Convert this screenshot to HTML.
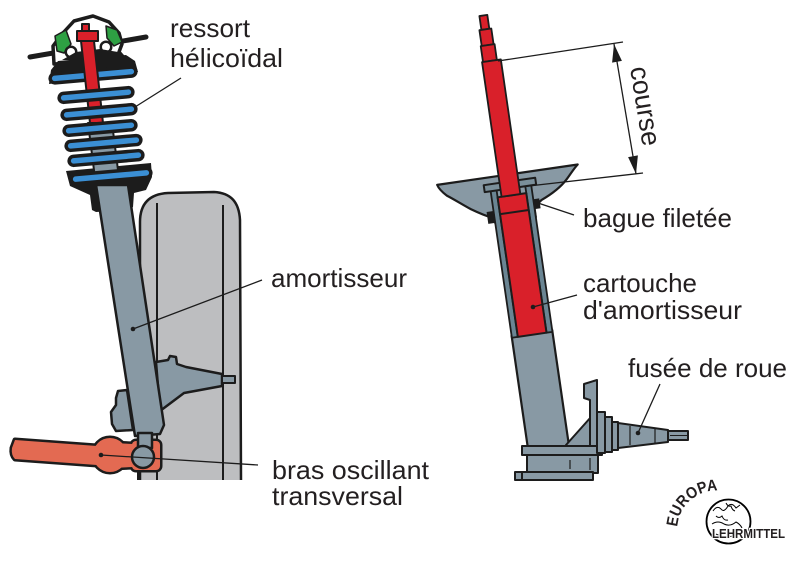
<!DOCTYPE html>
<html><head><meta charset="utf-8">
<style>
html,body{margin:0;padding:0;background:#fff;}
svg{display:block;}
text{font-family:"Liberation Sans Narrow","Liberation Sans",sans-serif;fill:#231f20;}
</style></head><body>
<svg width="798" height="564" viewBox="0 0 798 564" xmlns="http://www.w3.org/2000/svg">
<rect width="798" height="564" fill="#fff"/>

<!-- ============ LEFT FIGURE ============ -->
<g stroke="#1c1c1c" stroke-linejoin="round">
  <!-- wheel -->
  <path d="M140,480 L140,222 C140,203 150,194 168,193 L214,192 C231,193 239,202 240,220 L241,480 Z" fill="#bdbec0" stroke="none"/>
  <path d="M140,480 L140,222 C140,203 150,194 168,193 L214,192 C231,193 239,202 240,220 L241,480" fill="none" stroke-width="2.5"/>
  <line x1="157" y1="203" x2="157" y2="480" stroke-width="2"/>
  <line x1="223" y1="205" x2="223" y2="480" stroke-width="2"/>

  <!-- knuckle / stub -->
  <polygon points="156,362 168,360 170,356 176,357 177,364 186,367 222,374 222,386 184,393 168,405 160,411" fill="#8899a4" stroke-width="2.5"/>
  <rect x="222" y="376" width="13" height="7" fill="#8899a4" stroke-width="2"/>
  <!-- left bracket -->
  <polygon points="118,391 127,390 133,430 116,431 112,424 111,412 116,405 116,398" fill="#8899a4" stroke-width="2.5"/>

  <!-- lower spring seat (black cup) -->
  <polygon points="66,171 151,163 152,177 146,190 134,193 133,207 129,210 96,212 92,210 90,195 70,186" fill="#1c1c1c" stroke="none"/>
  <!-- damper body -->
  <polygon points="96,185 128,185 164,425 160,434 135,436" fill="#8899a4" stroke-width="2.5"/>

  <!-- top mount bar -->
  <line x1="30" y1="57" x2="146" y2="37" stroke-width="5" stroke-linecap="round"/>
  <!-- mount cap -->
  <path d="M54,64 L53,46 L62,34 L74,21 L93,16 L109,22 L119,33 L122,44 L119,52 L126,60 Z" fill="#fff" stroke-width="3.5"/>
  <polygon points="55,36 66,30 71,44 64,53 57,51" fill="#2ea043" stroke-width="1.5"/>
  <polygon points="106,26 117,30 122,42 114,46 107,38" fill="#2ea043" stroke-width="1.5"/>
  <circle cx="71" cy="52" r="6.5" fill="#1c1c1c" stroke="none"/>
  <circle cx="71" cy="52" r="4" fill="#fff" stroke="none"/>
  <circle cx="106" cy="47" r="6.5" fill="#1c1c1c" stroke="none"/>
  <circle cx="106" cy="47" r="4" fill="#fff" stroke="none"/>
  <polygon points="62,60 76,52 100,49 118,52 124,60" fill="#1c1c1c" stroke="none"/>
  <!-- upper seat -->
  <polygon points="49,84 51,70 58,61 126,55 135,61 138,72" fill="#1c1c1c" stroke="none"/>
  <!-- coil 1 -->
  <rect x="50" y="70.5" width="86" height="9" rx="4.5" fill="#3b8fd4" stroke-width="3.5" transform="rotate(-5 93 75)"/>

  <!-- rod area -->
  <polygon points="88,123 112,123 119,178 95,178" fill="#8899a4" stroke-width="2"/>
  <line x1="91" y1="140" x2="114" y2="140" stroke-width="1.5"/>
  <line x1="93" y1="156" x2="116" y2="156" stroke-width="1.5"/>
  <rect x="82" y="24" width="7" height="8" fill="#d9202a" stroke-width="2"/>
  <rect x="77" y="31" width="21" height="10" fill="#d9202a" stroke-width="2"/>
  <polygon points="81,41 94,41 103,123 90,123" fill="#d9202a" stroke-width="2"/>

  <!-- coils 2-7 -->
  <g fill="#3b8fd4" stroke-width="3.5">
    <rect x="59" y="90.5" width="74" height="9" rx="4.5" transform="rotate(-5 96 95)"/>
    <rect x="62" y="107.5" width="74" height="9" rx="4.5" transform="rotate(-5 99 112)"/>
    <rect x="64" y="123.5" width="72" height="9" rx="4.5" transform="rotate(-5 100 128)"/>
    <rect x="66" y="138.5" width="75" height="9" rx="4.5" transform="rotate(-5 103 143)"/>
    <rect x="69" y="153.5" width="74" height="9" rx="4.5" transform="rotate(-5 106 158)"/>
    <rect x="71" y="171.5" width="80" height="9" rx="4.5" transform="rotate(-5 111 176)"/>
  </g>

  <!-- transverse arm (outline pass then fill pass) -->
  <g fill="#1c1c1c" stroke="#1c1c1c" stroke-width="5">
    <path d="M15,440 L97,446 L97,465 L15,459 Q11,455 12,448 Z"/>
    <circle cx="110" cy="455" r="17"/>
    <polygon points="112,443 133,444 133,467 112,468"/>
    <rect x="132" y="441" width="28" height="29" rx="4"/>
  </g>
  <g fill="#e36a52" stroke="none">
    <path d="M15,440 L97,446 L97,465 L15,459 Q11,455 12,448 Z"/>
    <circle cx="110" cy="455" r="17"/>
    <polygon points="112,443 133,444 133,467 112,468"/>
    <rect x="132" y="441" width="28" height="29" rx="4"/>
  </g>
  <line x1="138" y1="470" x2="138" y2="480" stroke-width="2"/>
  <line x1="157" y1="470" x2="157" y2="480" stroke-width="2"/>
  <!-- ball joint -->
  <rect x="138" y="433" width="14" height="15" fill="#8899a4" stroke-width="2.5"/>
  <circle cx="143" cy="457" r="11" fill="#8899a4" stroke-width="2.5"/>
</g>

<!-- left leaders -->
<g stroke="#1c1c1c" stroke-width="1.3" fill="#1c1c1c">
  <line x1="135" y1="107" x2="181" y2="78"/>
  <line x1="133" y1="329" x2="262" y2="280"/>
  <circle cx="133" cy="329" r="2.3" stroke="none"/>
  <line x1="101" y1="455" x2="258" y2="465"/>
  <circle cx="101" cy="455" r="2.3" stroke="none"/>
</g>

<!-- ============ RIGHT FIGURE ============ -->
<g stroke="#1c1c1c" stroke-linejoin="round" transform="rotate(-8.25 500 200)">
  <!-- strut mount dish -->
  <path d="M440,176 L582,176 C578,179 574,184 569,189 C561,197 551,202 541,206 L533,212 L533,222 L492,222 L489,216 C482,213 476,209 470,205 C462,199 455,193 448,188 C444,184 441,180 440,176 Z" fill="#8899a4" stroke-width="2.2"/>
  <!-- lower column -->
  <rect x="492" y="336" width="41" height="122" fill="#8899a4" stroke-width="2.2"/>
  <!-- tube walls -->
  <rect x="492" y="186" width="6" height="152" fill="#6a8593" stroke-width="1.8"/>
  <rect x="527" y="186" width="6" height="152" fill="#6a8593" stroke-width="1.8"/>
  <!-- cartridge -->
  <rect x="498" y="197" width="29" height="141" fill="#d9202a" stroke-width="2"/>
  <line x1="498" y1="214" x2="527" y2="214" stroke-width="2"/>
  <!-- black bits -->
  <rect x="485" y="210" width="7" height="12" fill="#1c1c1c" stroke="none"/>
  <rect x="533" y="204" width="6" height="10" fill="#1c1c1c" stroke="none"/>
  <!-- nut -->
  <rect x="486" y="183" width="52" height="7" fill="#7a8f9a" stroke-width="2"/>
  <!-- rod -->
  <rect x="506" y="15" width="8" height="14" fill="#d9202a" stroke-width="1.8"/>
  <rect x="504" y="29" width="12" height="16" fill="#d9202a" stroke-width="1.8"/>
  <rect x="503" y="45" width="14" height="16" fill="#d9202a" stroke-width="1.8"/>
  <rect x="502" y="61" width="19" height="136" fill="#d9202a" stroke-width="1.8"/>
</g>

<!-- base, bracket, stub axle -->
<g stroke="#1c1c1c" stroke-width="2" stroke-linejoin="round" fill="#8899a4">
  <polygon points="566,445 591,417 591,447 566,447"/>
  <polygon points="584,384 597,380 597,447 590,447 590,400 584,398"/>
  <rect x="522" y="446" width="80" height="9"/>
  <rect x="527" y="455" width="71" height="18"/>
  <line x1="570" y1="460" x2="570" y2="469" stroke-width="1.2"/>
  <line x1="590" y1="458" x2="590" y2="470" stroke-width="1.2"/>
  <rect x="515" y="472" width="78" height="8"/>
  <line x1="522" y1="472" x2="522" y2="480"/>
  <rect x="597" y="412" width="8" height="41"/>
  <rect x="605" y="417" width="7" height="35"/>
  <rect x="612" y="422" width="6" height="28"/>
  <polygon points="618,423 668,430 668,442 618,448"/>
  <line x1="630" y1="426" x2="630" y2="445" stroke-width="1.2"/>
  <line x1="655" y1="429" x2="655" y2="443" stroke-width="1.2"/>
  <rect x="668" y="431" width="20" height="9"/>
  <line x1="670" y1="435.5" x2="688" y2="435.5" stroke-width="1"/>
</g>

<!-- right leaders & dimension -->
<g stroke="#1c1c1c" stroke-width="1.3" fill="#1c1c1c">
  <line x1="498" y1="61" x2="623" y2="42"/>
  <line x1="520" y1="187" x2="643" y2="173"/>
  <line x1="614" y1="44" x2="636" y2="174"/>
  <polygon points="614,44 621.9,60.9 612.1,62.6" stroke="none"/>
  <polygon points="636,174 637.9,155.4 628.1,157.1" stroke="none"/>
  <line x1="538" y1="203" x2="574" y2="215"/>
  <line x1="533" y1="307" x2="577" y2="295"/>
  <circle cx="533" cy="307" r="2.3" stroke="none"/>
  <line x1="638" y1="433" x2="660" y2="384"/>
  <circle cx="638" cy="433" r="2.3" stroke="none"/>
</g>

<!-- labels -->
<g font-size="26">
  <text x="170" y="37" textLength="80" lengthAdjust="spacingAndGlyphs">ressort</text>
  <text x="170" y="67" textLength="113" lengthAdjust="spacingAndGlyphs">hélicoïdal</text>
  <text x="271" y="287" textLength="136" lengthAdjust="spacingAndGlyphs">amortisseur</text>
  <text x="272" y="479" textLength="157" lengthAdjust="spacingAndGlyphs">bras oscillant</text>
  <text x="272" y="505" textLength="131" lengthAdjust="spacingAndGlyphs">transversal</text>
  <text x="583" y="227" textLength="149" lengthAdjust="spacingAndGlyphs">bague filetée</text>
  <text x="583" y="292" textLength="114" lengthAdjust="spacingAndGlyphs">cartouche</text>
  <text x="583" y="319" textLength="159" lengthAdjust="spacingAndGlyphs">d'amortisseur</text>
  <text x="628" y="377" textLength="159" lengthAdjust="spacingAndGlyphs">fusée de roue</text>
  <text transform="translate(630,68) rotate(80.8)" font-size="27" textLength="80" lengthAdjust="spacingAndGlyphs">course</text>
</g>

<!-- logo -->
<g>
  <circle cx="728.5" cy="521.5" r="22" fill="#fff" stroke="#000" stroke-width="1.8"/>
  <path d="M713,511 q4,-6 8,-2 q3,4 7,-3 q4,-4 8,2 l4,-3 M712,524 q6,-4 12,0 q6,3 12,-2 q4,2 6,6 M716,534 q5,3 10,1 q4,3 9,0 M716,516 q3,3 6,0 q2,5 6,4 M726,503 q2,4 5,3 q1,4 4,5" fill="none" stroke="#000" stroke-width="1"/>
  <path id="arc" d="M677.3,527 A39,39 0 0 1 722,491" fill="none"/>
  <text font-weight="bold" font-size="16" fill="#000"><textPath href="#arc" textLength="60" lengthAdjust="spacingAndGlyphs">EUROPA</textPath></text>
  <text x="712" y="538" font-weight="bold" font-size="13" textLength="73" lengthAdjust="spacingAndGlyphs" fill="#000" stroke="#fff" stroke-width="2.5" paint-order="stroke">LEHRMITTEL</text>
</g>
</svg>
</body></html>
